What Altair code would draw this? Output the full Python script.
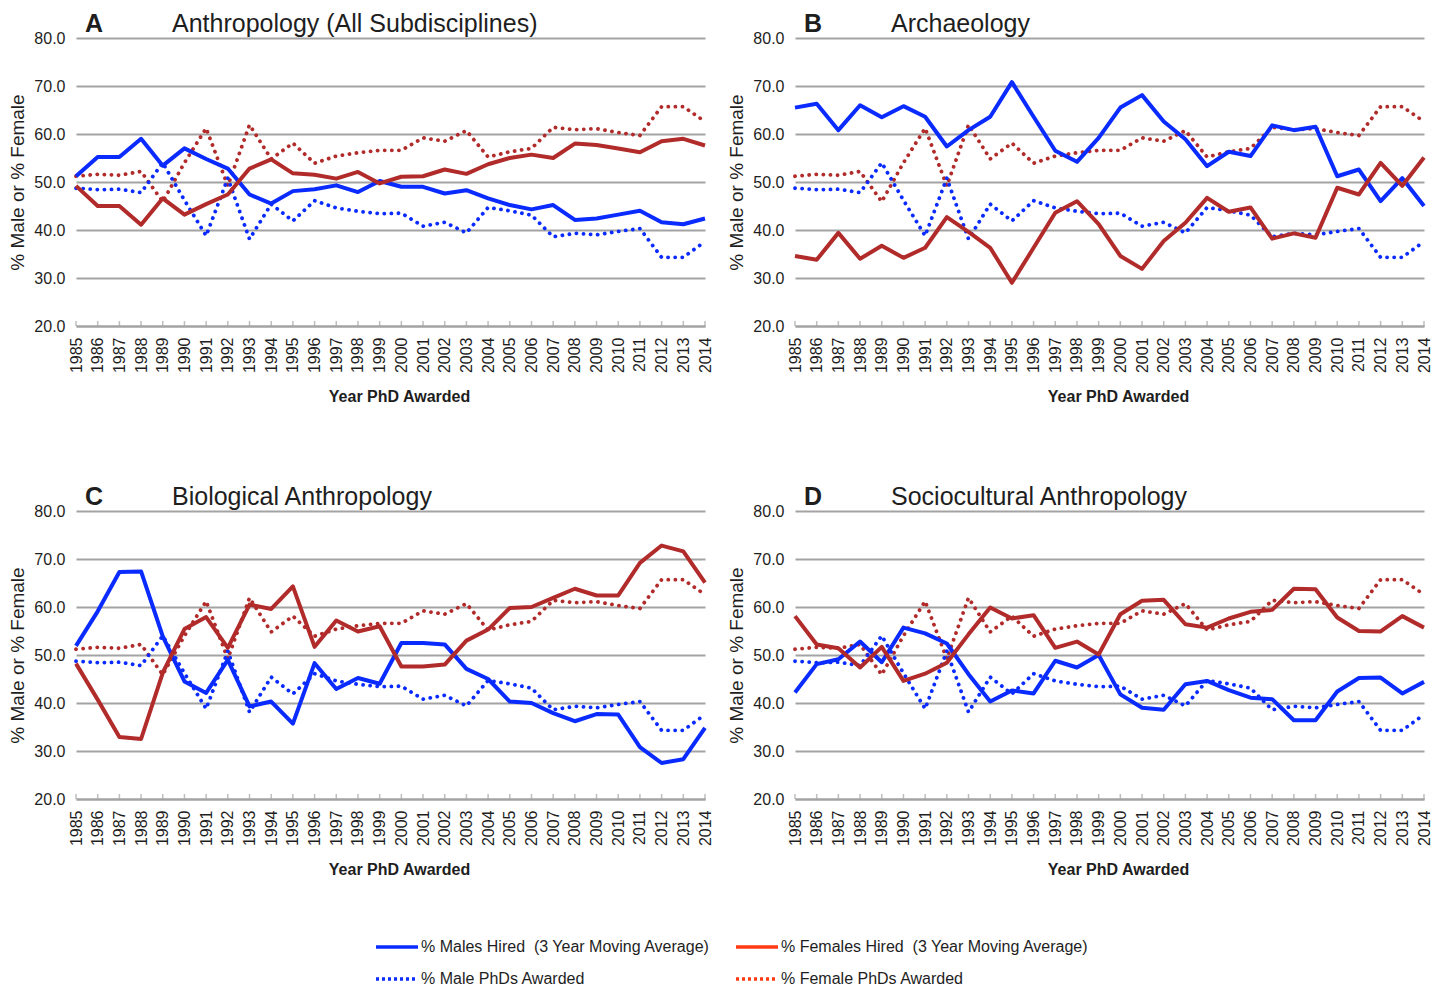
import altair as alt
import pandas as pd

YEARS = list(range(1985, 2015))

# PhDs awarded (same in every panel)
PHD_MALE = [48.7, 48.4, 48.5, 47.8, 54.0, 46.2, 38.8, 50.8, 38.1, 45.4, 41.9, 46.1, 44.6, 43.9, 43.4,
            43.5, 40.8, 41.6, 39.4, 44.7, 44.0, 43.1, 38.6, 39.3, 39.0, 39.7, 40.3, 34.3, 34.3, 37.6]
PHD_FEMALE = [51.2, 51.6, 51.4, 52.2, 45.9, 54.0, 61.2, 49.2, 61.9, 54.8, 58.1, 53.9, 55.4, 56.1, 56.6,
              56.6, 59.2, 58.5, 60.7, 55.2, 56.3, 57.0, 61.4, 60.9, 61.1, 60.3, 59.7, 65.7, 65.7, 62.6]

# Hired (3 year moving average)
A_MALE = [51.2, 55.2, 55.2, 59.0, 53.4, 57.0, 54.8, 52.8, 47.4, 45.5, 48.1, 48.5, 49.3, 47.9, 50.2,
          49.0, 49.0, 47.6, 48.3, 46.6, 45.2, 44.3, 45.2, 42.1, 42.4, 43.2, 44.0, 41.6, 41.2, 42.4]
A_FEMALE = [49.2, 45.0, 45.0, 41.1, 46.6, 43.2, 45.4, 47.4, 52.8, 54.7, 51.8, 51.5, 50.7, 52.1, 49.7,
            51.1, 51.2, 52.6, 51.7, 53.7, 55.0, 55.7, 55.0, 58.0, 57.7, 57.0, 56.2, 58.5, 59.0, 57.6]
B_MALE = [65.5, 66.3, 60.8, 66.0, 63.5, 65.8, 63.6, 57.4, 60.8, 63.6, 70.8, 63.6, 56.5, 54.2, 59.2,
          65.5, 68.1, 62.6, 58.9, 53.3, 56.3, 55.4, 61.8, 60.8, 61.5, 51.2, 52.6, 46.0, 50.8, 45.0]
B_FEMALE = [34.6, 33.8, 39.4, 34.0, 36.7, 34.2, 36.3, 42.7, 39.6, 36.3, 29.0, 36.3, 43.6, 46.0, 41.2,
            34.6, 31.9, 37.7, 41.5, 46.7, 43.8, 44.7, 38.2, 39.3, 38.4, 48.8, 47.4, 54.0, 49.2, 55.1]
C_MALE = [51.9, 59.1, 67.3, 67.4, 53.9, 44.5, 42.1, 49.0, 39.3, 40.3, 35.7, 48.3, 42.9, 45.2, 44.0,
          52.5, 52.5, 52.2, 47.1, 45.0, 40.3, 40.0, 37.9, 36.2, 37.7, 37.6, 30.8, 27.5, 28.3, 34.8]
C_FEMALE = [48.2, 40.7, 32.9, 32.5, 46.3, 55.4, 57.9, 51.5, 60.5, 59.6, 64.3, 51.7, 57.2, 54.9, 56.0,
            47.6, 47.6, 48.0, 53.0, 55.3, 59.8, 60.0, 61.9, 63.8, 62.4, 62.4, 69.2, 72.8, 71.6, 65.1]
D_MALE = [42.2, 48.1, 49.1, 52.8, 48.5, 55.7, 54.5, 52.4, 46.0, 40.3, 42.6, 42.0, 48.8, 47.4, 50.0,
          41.8, 39.0, 38.6, 43.9, 44.6, 42.7, 41.1, 40.8, 36.4, 36.4, 42.4, 45.2, 45.3, 42.0, 44.4]
D_FEMALE = [58.1, 52.2, 51.4, 47.4, 51.7, 44.6, 46.1, 48.4, 54.3, 59.9, 57.6, 58.3, 51.5, 52.8, 50.1,
            58.5, 61.3, 61.5, 56.4, 55.7, 57.6, 59.0, 59.4, 63.8, 63.7, 57.8, 55.0, 54.9, 58.1, 55.7]

LETTERS = ["A", "B", "C", "D"]
NAMES = ["Anthropology (All Subdisciplines)", "Archaeology", "Biological Anthropology",
         "Sociocultural Anthropology"]
MALES = [A_MALE, B_MALE, C_MALE, D_MALE]
FEMALES = [A_FEMALE, B_FEMALE, C_FEMALE, D_FEMALE]

Y_TICKS = [20, 30, 40, 50, 60, 70, 80]

LEGEND_LABELS = ["% Males Hired \u00a0(3 Year Moving Average)", "% Females Hired \u00a0(3 Year Moving Average)",
                 "% Male PhDs Awarded", "% Female PhDs Awarded"]
LEGEND_COL = [0, 1, 0, 1]
LEGEND_ROW = [0, 0, 1, 1]

BLUE = "#0a2bff"
RED = "#b22b2b"
ORANGE = "#ff3a12"
GRID = "#a3a3a3"
TEXT = "#1e1e1e"
FONT = "Liberation Sans, Arial, Helvetica, sans-serif"

PW, PH = 629, 288


def panel(letter, name, male, female):
    df = pd.DataFrame({"year": YEARS, "male_hired": male, "female_hired": female,
                       "male_phd": PHD_MALE, "female_phd": PHD_FEMALE})
    x = alt.X("year:O", scale=alt.Scale(type="point", padding=0),
              axis=alt.Axis(title="Year PhD Awarded", titleFontWeight="bold", titleFontSize=16,
                            labelAngle=270, labelFontSize=16, labelPadding=11, ticks=False,
                            domain=True, domainColor=GRID, domainWidth=2, grid=False,
                            titlePadding=16, titleX=323))
    yscale = alt.Scale(domain=[20, 80], nice=False, zero=False)
    yaxis = alt.Axis(values=Y_TICKS, format=".1f", title="% Male or % Female", titleFontSize=19,
                     titleFontWeight="normal", labelFontSize=16, labelPadding=11, ticks=False,
                     domain=False, grid=True, gridColor=GRID, gridWidth=2, titlePadding=6)
    base = alt.Chart(df)

    def line(field, color, dotted):
        if dotted:
            mk = base.mark_line(color=color, strokeWidth=3.8, strokeDash=[0.1, 7], strokeCap="round")
        else:
            mk = base.mark_line(color=color, strokeWidth=4, strokeJoin="round")
        return mk.encode(x=x, y=alt.Y(f"{field}:Q", scale=yscale, axis=yaxis))

    ticks = base.mark_tick(orient="vertical", color=GRID, size=5, thickness=1.5, yOffset=-2.5).encode(
        x=x, y=alt.Y(datum=20, scale=yscale, axis=yaxis))
    tdf = pd.DataFrame({"letter": [letter], "name": [name]})
    let = alt.Chart(tdf).mark_text(align="left", baseline="alphabetic", fontSize=25, fontWeight="bold",
                                   font=FONT, color=TEXT).encode(
        text="letter:N", x=alt.value(9), y=alt.value(-6))
    ttl = alt.Chart(tdf).mark_text(align="left", baseline="alphabetic", fontSize=25,
                                   font=FONT, color=TEXT).encode(
        text="name:N", x=alt.value(96), y=alt.value(-6))
    return alt.layer(
        ticks,
        line("female_phd", RED, True),
        line("male_phd", BLUE, True),
        line("male_hired", BLUE, False),
        line("female_hired", RED, False),
        let, ttl,
    ).properties(width=PW, height=PH)


panels = [panel(l, n, m, f) for l, n, m, f in zip(LETTERS, NAMES, MALES, FEMALES)]

ldf = pd.DataFrame({"label": LEGEND_LABELS, "col": LEGEND_COL, "row": LEGEND_ROW})
lx = alt.X("col:Q", scale=alt.Scale(domain=[0, 1], range=[321, 681]), axis=None)
ly = alt.Y("row:Q", scale=alt.Scale(domain=[0, 1], range=[10, 42]), axis=None)
swatch = alt.Chart(ldf).mark_point(shape="M-1,0L1,0", size=1764, filled=False, strokeWidth=3.5,
                                   opacity=1).encode(
    x=lx, y=ly,
    color=alt.Color("label:N", scale=alt.Scale(domain=LEGEND_LABELS, range=[BLUE, ORANGE, BLUE, ORANGE]),
                    legend=None),
    strokeDash=alt.StrokeDash("label:N", scale=alt.Scale(domain=LEGEND_LABELS,
                                                         range=[[1, 0], [1, 0], [3, 3], [3, 3]]),
                              legend=None))
ltext = alt.Chart(ldf).mark_text(align="left", baseline="middle", dx=24, fontSize=16, font=FONT,
                                 color=TEXT).encode(x=lx, y=ly, text="label:N")
legend = alt.layer(swatch, ltext).properties(width=900, height=52)

top = alt.hconcat(panels[0], panels[1], spacing=14)
bottom = alt.hconcat(panels[2], panels[3], spacing=14)
grid = alt.vconcat(top, bottom, spacing=80)
chart = alt.vconcat(grid, legend, spacing=59).properties(
    padding={"top": 4, "left": 0, "right": 0, "bottom": 0}
).configure_axis(
    labelFont=FONT, titleFont=FONT, labelColor=TEXT, titleColor=TEXT
).configure_view(stroke=None)

chart.save("out.html", embed_options={"renderer": "svg", "actions": False})
